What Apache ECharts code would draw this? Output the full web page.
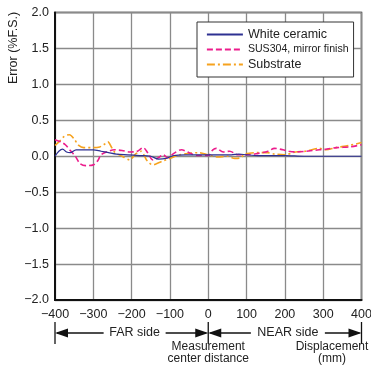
<!DOCTYPE html>
<html>
<head>
<meta charset="utf-8">
<script src="https://cdn.jsdelivr.net/npm/echarts@6/dist/echarts.min.js"></script>
<style>
html,body{margin:0;padding:0;background:#fff;}
#c{width:371px;height:374px;}
</style>
</head>
<body>
<div id="c"></div>
<script>
// ---- data ----
const whiteX = [-400,-390,-380,-370,-360,-345,-320,-300,-280,-260,-240,-210,-180,-150,-130,-110,-90,-60,-20,0,30,60,80,100,130,160,200,250,300,350,400];
const whiteY = [0.0,0.07,0.1,0.06,0.05,0.09,0.09,0.09,0.07,0.05,0.03,0.02,0.01,0.0,-0.04,-0.03,0.01,0.02,0.02,0.02,0.02,0.02,0.03,0.02,0.01,0.01,0.01,0.0,0.0,0.0,0.0];

const susX = [-400,-385,-373,-360,-347,-335,-320,-300,-288,-280,-265,-245,-225,-205,-185,-170,-158,-145,-130,-118,-105,-90,-70,-50,-30,0,12,21,39,56,78,104,130,156,173,195,210,230,255,290,310,335,370,400];
const susY = [0.23,0.2,0.16,0.08,0.0,-0.1,-0.13,-0.12,-0.06,0.02,0.06,0.09,0.08,0.06,0.07,0.12,0.05,-0.05,-0.02,0.02,-0.02,0.04,0.09,0.05,0.01,0.01,0.09,0.11,0.06,0.07,0.02,0.02,0.04,0.07,0.11,0.09,0.07,0.06,0.07,0.09,0.1,0.12,0.13,0.16];

const subX = [-400,-390,-375,-362,-350,-338,-325,-300,-283,-270,-262,-252,-243,-225,-205,-190,-175,-168,-160,-145,-138,-120,-100,-75,-50,-25,0,25,51,69,85,95,130,155,173,199,228,254,289,307,333,368,400];
const subY = [0.15,0.2,0.28,0.3,0.24,0.15,0.12,0.12,0.13,0.17,0.2,0.12,0.05,0.0,-0.05,0.03,0.07,0.02,-0.06,-0.12,-0.11,-0.07,-0.03,0.02,0.04,0.05,0.02,-0.01,0.0,-0.03,-0.02,0.03,0.05,0.05,0.03,0.02,0.06,0.07,0.11,0.09,0.12,0.15,0.19];

const seriesNames = ['White ceramic','SUS304, mirror finish','Substrate'];
const xTicks = [-400,-300,-200,-100,0,100,200,300,400];
const yAxisTitle = 'Error (%F.S.)';
const farLabel = 'FAR side';
const nearLabel = 'NEAR side';
const centerLabel = ['Measurement','center distance'];
const unitLabel = ['Displacement','(mm)'];

function pairs(xs, ys){ return xs.map((x,i)=>[x, ys[i]]); }
function fmt(v, d){ const s = Math.abs(v).toFixed(d); return v < 0 ? '\u2212' + s : s; }

const FONT = 'Liberation Sans, Arial, sans-serif';
const TXT = '#222';

const chart = echarts.init(document.getElementById('c'), null, {renderer:'canvas'});
const option = {
  animation: false,
  textStyle: {fontFamily: FONT, color: TXT},
  grid: {left: 55, right: 9.5, top: 12.5, bottom: 74, show: true, borderColor: '#222', borderWidth: 1.5,
         backgroundColor: 'transparent', containLabel: false, outerBoundsMode: 'none'},
  xAxis: {
    type: 'value', min: -400, max: 400, interval: 100,
    axisLine: {show: true, onZero: false, lineStyle: {color: '#111', width: 2}},
    axisTick: {show: false},
    splitLine: {show: true, lineStyle: {color: '#8a8a8a', width: 1.3}},
    axisLabel: {color: TXT, fontSize: 12.5, fontFamily: FONT, margin: 8, formatter: v => fmt(v, 0), showMinLabel: true, showMaxLabel: true, hideOverlap: false}
  },
  yAxis: {
    type: 'value', min: -2, max: 2, interval: 0.5,
    axisLine: {show: true, onZero: false, lineStyle: {color: '#111', width: 2}},
    axisTick: {show: false},
    splitLine: {show: true, lineStyle: {color: '#8a8a8a', width: 1.3}},
    axisLabel: {color: TXT, fontSize: 12.5, fontFamily: FONT, margin: 6, formatter: v => fmt(v, 1)}
  },
  legend: {
    show: true,
    orient: 'vertical',
    left: 197, top: 22,
    padding: [6, 5, 6, 9],
    itemGap: 3,
    itemWidth: 36, itemHeight: 12,
    backgroundColor: '#fff',
    borderColor: '#333', borderWidth: 1,
    data: seriesNames,
    itemStyle: {color: 'rgba(0,0,0,0)', borderWidth: 0, opacity: 0},
    lineStyle: {width: 1.8},
    textStyle: {fontFamily: FONT, color: TXT, fontSize: 12},
    formatter: function(name){
      if (name === seriesNames[1]) return '{s|' + name + '}';
      return '{n|' + name + '}';
    }
  },
  series: [
    {name: seriesNames[0], type: 'line', data: pairs(whiteX, whiteY), smooth: 0.3, symbol: 'none', showSymbol: false,
     lineStyle: {color: '#2e3192', width: 1.2}, itemStyle: {color: '#2e3192'}, z: 4},
    {name: seriesNames[1], type: 'line', data: pairs(susX, susY), smooth: 0.3, symbol: 'none', showSymbol: false,
     lineStyle: {color: '#ec1c8c', width: 1.6, type: [6, 3]}, itemStyle: {color: '#ec1c8c'}, z: 3},
    {name: seriesNames[2], type: 'line', data: pairs(subX, subY), smooth: 0.3, symbol: 'none', showSymbol: false,
     lineStyle: {color: '#f6a21e', width: 1.6, type: [8, 3, 2, 3]}, itemStyle: {color: '#f6a21e'}, z: 2}
  ]
};
option.legend.textStyle.rich = {
  n: {fontSize: 12.5, fontFamily: FONT, color: TXT},
  s: {fontSize: 10.6, fontFamily: FONT, color: TXT}
};
chart.setOption(option);

// ---- annotations below the x axis ----
const px = v => chart.convertToPixel({xAxisIndex: 0}, v);
const xL = px(-400), xC = px(0), xR = px(400);
const yA = 333;
const lineStyle = {stroke: '#111', lineWidth: 1.3};
const g = [];
function vtick(x){ g.push({type:'line', shape:{x1:x, y1:322, x2:x, y2:344}, style: lineStyle, silent:true}); }
function head(xTip, dir){ // dir -1 points left, +1 points right
  const L = 13, H = 4.5;
  g.push({type:'polygon', shape:{points:[[xTip, yA],[xTip - dir*L, yA - H],[xTip - dir*L, yA + H]]}, style:{fill:'#111'}, silent:true});
}
function arrowWithText(x1, x2, text, tw, shift){
  const mid = (x1 + x2) / 2 + shift;
  g.push({type:'line', shape:{x1:x1+2, y1:yA, x2:mid - tw/2 - 3, y2:yA}, style: lineStyle, silent:true});
  g.push({type:'line', shape:{x1:mid + tw/2 + 3, y1:yA, x2:x2-2, y2:yA}, style: lineStyle, silent:true});
  head(x1, -1); head(x2, 1);
  g.push({type:'text', x: mid, y: yA, style:{text: text, fill: TXT, font: '12.5px ' + FONT, align:'center', verticalAlign:'middle'}, silent:true});
}
vtick(xL); vtick(xC); vtick(xR);
arrowWithText(xL, xC, farLabel, 56, 3);
arrowWithText(xC, xR, nearLabel, 68, 3);
g.push({type:'text', x: xC, y: 353, style:{text: centerLabel.join('\n'), fill: TXT, font: '12px ' + FONT, align:'center', verticalAlign:'middle', lineHeight: 12}, silent:true});
g.push({type:'text', x: 332, y: 353, style:{text: unitLabel.join('\n'), fill: TXT, font: '12px ' + FONT, align:'center', verticalAlign:'middle', lineHeight: 12}, silent:true});
// y-axis title
g.push({type:'text', x: 14, y: 48, rotation: Math.PI/2, style:{text: yAxisTitle, fill: TXT, font: '12.5px ' + FONT, align:'center', verticalAlign:'middle'}, silent:true});
chart.setOption({graphic: g});
</script>
</body>
</html>
